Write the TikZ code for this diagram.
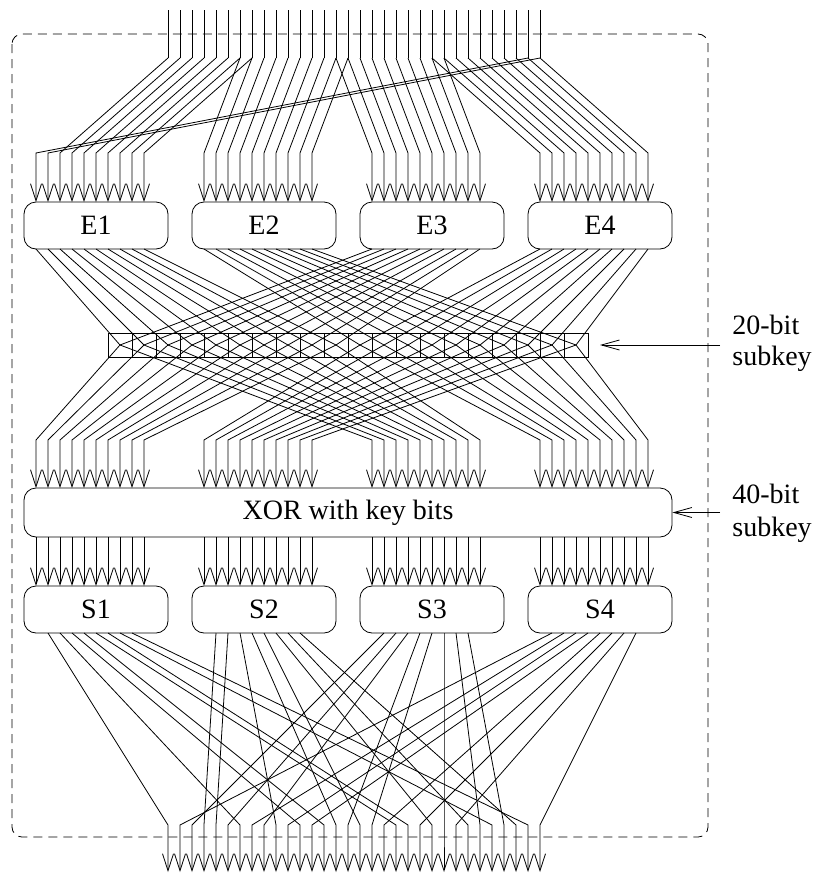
\documentclass[tikz,border=0pt]{standalone}
\usepackage{fontspec}
\setmainfont{Liberation Serif}
\usetikzlibrary{arrows.meta}
\begin{document}
\begin{tikzpicture}[x=1pt,y=-1pt,line width=0.8pt,
  wire/.style={-{Straight Barb[length=17pt,width=11pt]}},
  keyarr/.style={-{Straight Barb[length=18pt,width=10pt]}},
  rbox/.style={draw,rounded corners=12pt,minimum height=47pt,inner sep=0pt,font=\fontsize{28}{32}\selectfont},
  lbl/.style={anchor=base west,inner sep=0pt,font=\fontsize{28}{32}\selectfont},
  frame/.style={dash pattern=on 9pt off 6pt,rounded corners=10pt}]
\useasboundingbox (0,0) rectangle (815,873);
% outer dashed frame
\draw[frame] (12,34) rectangle (708,837);
% boxes
\foreach \g in {0,1,2,3}{
  \pgfmathtruncatemacro\n{\g+1}
  \node[rbox,minimum width=144pt] (E\n) at ({96+168*\g},225.5) {E\n};
  \node[rbox,minimum width=144pt] (S\n) at ({96+168*\g},609.5) {S\n};
}
\node[rbox,minimum width=648pt,minimum height=49pt] (XOR) at (348,512.5) {XOR with key bits};
\node[draw,minimum width=480pt,minimum height=24pt,inner sep=0pt] (K) at (348,345) {};
\foreach \j in {1,...,19}{\draw ({108+24*\j},333) -- ({108+24*\j},357);}
% coordinates
\foreach \i in {0,...,31}{
  \coordinate (in\i) at ({168+12*\i},10);
  \coordinate (ib\i) at ({168+12*\i},58);
  \coordinate (ob\i) at ({168+12*\i},825);
  \coordinate (ot\i) at ({168+12*\i},872);
  \pgfmathtruncatemacro\g{div(\i,8)}
  \pgfmathtruncatemacro\k{mod(\i,8)}
  \coordinate (so\i) at ({48+168*\g+12*\k},633);
}
\foreach \q in {0,...,39}{
  \pgfmathtruncatemacro\g{div(\q,10)}
  \pgfmathtruncatemacro\k{mod(\q,10)}
  \pgfmathsetmacro\xx{36+168*\g+12*\k}
  \coordinate (eb\q) at (\xx,153);
  \coordinate (et\q) at (\xx,202);
  \coordinate (eo\q) at (\xx,249);
  \coordinate (xb\q) at (\xx,440);
  \coordinate (xt\q) at (\xx,488);
  \coordinate (xo\q) at (\xx,537);
  \coordinate (st\q) at (\xx,586);
}
\foreach \j in {0,...,19}{\coordinate (c\j) at ({120+24*\j},345);}
% input wires
\foreach \i in {0,...,31}{\draw (in\i) -- (ib\i);}
\foreach \q in {0,...,39}{
  \pgfmathtruncatemacro\g{div(\q,10)}
  \pgfmathtruncatemacro\p{mod(\q,10)}
  \pgfmathtruncatemacro\src{\p<2 ? mod(8*\g-2+\p+32,32) : 8*\g+\p-2}
  \pgfmathtruncatemacro\j{\p+10*mod(\g,2)}
  \draw[wire] (ib\src) -- (eb\q) -- (et\q);
  \draw (eo\q) -- (c\j);
  \draw[wire] (c\j) -- (xb\q) -- (xt\q);
  \draw[wire] (xo\q) -- (st\q);
}
% S-box outputs permutation
\foreach \d [count=\s from 0] in {0,6,11,13,19,20,27,30,3,4,9,14,16,22,25,29,2,5,8,15,17,23,26,28,1,7,10,12,18,21,24,31}{
  \draw[wire] (so\s) -- (ob\d) -- (ot\d);
}
% subkey arrows and labels
\coordinate (k20s) at (720,345);
\coordinate (k20e) at (600,345);
\coordinate (k40s) at (720,512.5);
\draw[keyarr] (k20s) -- (k20e);
\draw[keyarr] (k40s) -- (XOR.east);
\node[lbl] (l20a) at (732,334) {20-bit};
\node[lbl] (l20b) at (732,365) {subkey};
\node[lbl] (l40a) at (732,503) {40-bit};
\node[lbl] (l40b) at (732,536) {subkey};
\end{tikzpicture}
\end{document}
